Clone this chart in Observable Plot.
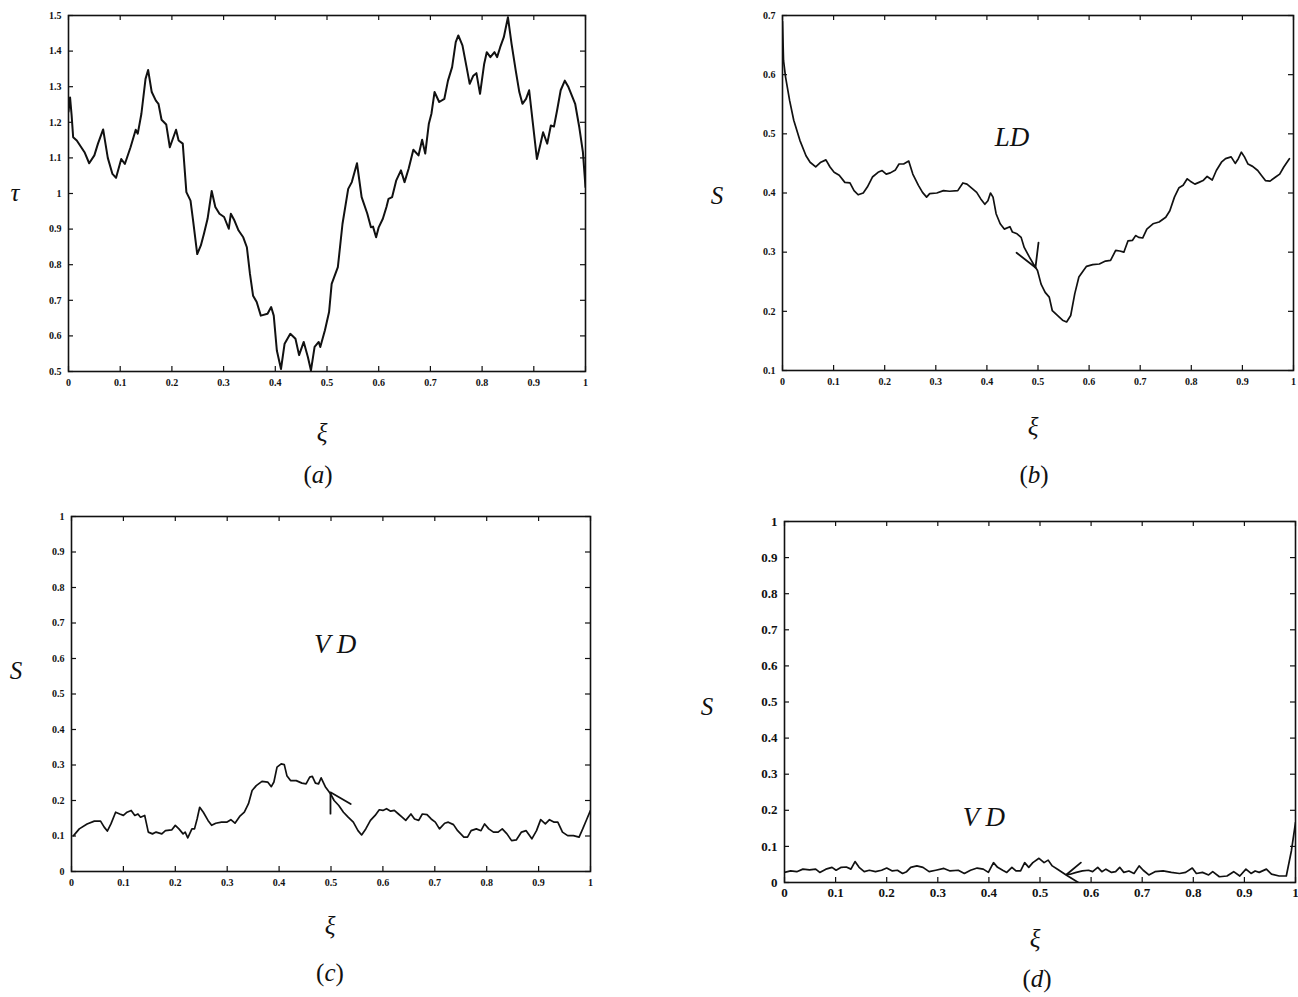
<!DOCTYPE html>
<html><head><meta charset="utf-8">
<script src="https://cdn.jsdelivr.net/npm/d3@7"></script>
<script src="https://cdn.jsdelivr.net/npm/@observablehq/plot@0.6"></script>
<style>
body{margin:0;background:#fff}
#root{position:relative;width:1298px;height:997px;overflow:hidden;background:#fff}
.lbl{position:absolute;font-family:"Liberation Serif",serif;font-size:25px;transform:translate(-50%,-50%);white-space:nowrap;color:#111;line-height:1}
.lbl i{font-style:italic}
</style>
</head><body><div id="root"></div>
<script>
// ---- tick values ----
const xTicks = [0,0.1,0.2,0.3,0.4,0.5,0.6,0.7,0.8,0.9,1];
const yTicksA = [0.5,0.6,0.7,0.8,0.9,1,1.1,1.2,1.3,1.4,1.5];
const yTicksB = [0.1,0.2,0.3,0.4,0.5,0.6,0.7];
const yTicksCD = [0,0.1,0.2,0.3,0.4,0.5,0.6,0.7,0.8,0.9,1];

// ---- panel (a): tau vs xi ----
const tauA = [[0,1.23],[0.003,1.27],[0.006,1.22],[0.009,1.158],[0.016,1.149],[0.031,1.116],[0.04,1.085],[0.05,1.107],[0.057,1.14],[0.067,1.18],[0.076,1.10],[0.085,1.055],[0.092,1.044],[0.102,1.097],[0.109,1.083],[0.12,1.13],[0.13,1.179],[0.134,1.168],[0.141,1.224],[0.149,1.322],[0.154,1.347],[0.161,1.285],[0.169,1.261],[0.174,1.252],[0.18,1.207],[0.189,1.194],[0.196,1.13],[0.208,1.179],[0.213,1.149],[0.221,1.14],[0.228,1.004],[0.236,0.98],[0.241,0.924],[0.249,0.83],[0.256,0.854],[0.262,0.887],[0.269,0.929],[0.277,1.007],[0.284,0.962],[0.292,0.943],[0.301,0.934],[0.31,0.901],[0.314,0.943],[0.321,0.924],[0.329,0.896],[0.338,0.877],[0.345,0.849],[0.351,0.774],[0.357,0.713],[0.364,0.695],[0.372,0.657],[0.385,0.662],[0.392,0.681],[0.397,0.657],[0.403,0.559],[0.411,0.507],[0.418,0.578],[0.429,0.606],[0.439,0.592],[0.446,0.546],[0.455,0.583],[0.463,0.541],[0.469,0.503],[0.476,0.569],[0.484,0.583],[0.487,0.569],[0.496,0.616],[0.504,0.667],[0.509,0.746],[0.521,0.793],[0.53,0.915],[0.541,1.013],[0.548,1.032],[0.558,1.085],[0.567,0.99],[0.578,0.943],[0.585,0.905],[0.589,0.907],[0.595,0.877],[0.6,0.905],[0.608,0.929],[0.615,0.962],[0.619,0.985],[0.626,0.99],[0.634,1.037],[0.643,1.065],[0.65,1.032],[0.658,1.07],[0.667,1.123],[0.677,1.107],[0.684,1.151],[0.69,1.112],[0.697,1.196],[0.702,1.224],[0.708,1.285],[0.717,1.257],[0.727,1.266],[0.734,1.317],[0.742,1.355],[0.749,1.425],[0.754,1.444],[0.762,1.416],[0.77,1.355],[0.776,1.308],[0.783,1.331],[0.789,1.338],[0.796,1.28],[0.804,1.364],[0.809,1.397],[0.816,1.383],[0.824,1.397],[0.829,1.383],[0.835,1.411],[0.842,1.439],[0.85,1.495],[0.857,1.42],[0.865,1.346],[0.872,1.285],[0.878,1.252],[0.885,1.266],[0.891,1.29],[0.898,1.2],[0.906,1.097],[0.913,1.14],[0.918,1.172],[0.926,1.14],[0.933,1.191],[0.939,1.188],[0.945,1.233],[0.952,1.29],[0.96,1.317],[0.967,1.299],[0.975,1.27],[0.98,1.252],[0.988,1.186],[0.995,1.116],[1.0,1.018]];

// ---- panel (b): S (LD) ----
const sB = [[0,0.69],[0.002,0.624],[0.006,0.596],[0.014,0.556],[0.022,0.523],[0.034,0.489],[0.046,0.463],[0.054,0.452],[0.065,0.444],[0.075,0.452],[0.085,0.456],[0.093,0.444],[0.101,0.435],[0.111,0.43],[0.122,0.418],[0.132,0.417],[0.14,0.404],[0.148,0.397],[0.158,0.4],[0.166,0.41],[0.176,0.427],[0.187,0.435],[0.195,0.438],[0.203,0.432],[0.211,0.434],[0.221,0.439],[0.228,0.449],[0.237,0.449],[0.247,0.454],[0.255,0.432],[0.266,0.413],[0.274,0.401],[0.282,0.393],[0.288,0.399],[0.302,0.4],[0.315,0.404],[0.327,0.403],[0.343,0.404],[0.353,0.417],[0.361,0.415],[0.372,0.407],[0.38,0.401],[0.388,0.39],[0.396,0.381],[0.402,0.387],[0.407,0.4],[0.412,0.393],[0.418,0.365],[0.426,0.348],[0.434,0.339],[0.445,0.343],[0.45,0.334],[0.459,0.331],[0.467,0.325],[0.473,0.308],[0.483,0.292],[0.491,0.28],[0.499,0.269],[0.506,0.246],[0.514,0.232],[0.522,0.224],[0.528,0.201],[0.538,0.193],[0.548,0.185],[0.556,0.182],[0.564,0.193],[0.572,0.23],[0.58,0.258],[0.589,0.269],[0.595,0.276],[0.607,0.279],[0.62,0.28],[0.632,0.285],[0.642,0.286],[0.652,0.303],[0.66,0.302],[0.668,0.3],[0.676,0.319],[0.685,0.32],[0.691,0.328],[0.697,0.325],[0.705,0.324],[0.713,0.339],[0.725,0.348],[0.737,0.351],[0.75,0.359],[0.758,0.37],[0.767,0.393],[0.776,0.409],[0.784,0.413],[0.792,0.424],[0.798,0.42],[0.807,0.415],[0.815,0.418],[0.823,0.421],[0.831,0.428],[0.841,0.422],[0.849,0.438],[0.859,0.452],[0.867,0.458],[0.878,0.461],[0.886,0.45],[0.892,0.458],[0.898,0.469],[0.904,0.461],[0.911,0.449],[0.92,0.445],[0.93,0.438],[0.937,0.43],[0.945,0.421],[0.954,0.42],[0.965,0.427],[0.973,0.432],[0.981,0.444],[0.992,0.458]];
const arrowB = [[0.458,0.299,"a"],[0.495,0.274,"a"],[0.501,0.316,"b"],[0.495,0.274,"b"]];

// ---- panel (c): S (VD) ----
const sC = [[0.004,0.101],[0.015,0.12],[0.03,0.134],[0.044,0.142],[0.056,0.142],[0.063,0.125],[0.069,0.114],[0.076,0.134],[0.085,0.167],[0.093,0.162],[0.1,0.158],[0.107,0.167],[0.115,0.172],[0.122,0.158],[0.128,0.162],[0.133,0.153],[0.141,0.158],[0.148,0.111],[0.156,0.106],[0.163,0.111],[0.174,0.106],[0.181,0.115],[0.193,0.117],[0.2,0.13],[0.207,0.12],[0.215,0.106],[0.219,0.111],[0.224,0.095],[0.232,0.12],[0.237,0.12],[0.242,0.148],[0.247,0.181],[0.254,0.167],[0.263,0.144],[0.27,0.13],[0.278,0.136],[0.289,0.139],[0.299,0.139],[0.307,0.146],[0.315,0.136],[0.324,0.155],[0.333,0.167],[0.341,0.191],[0.348,0.228],[0.356,0.242],[0.367,0.254],[0.378,0.252],[0.385,0.239],[0.39,0.252],[0.396,0.294],[0.404,0.303],[0.41,0.301],[0.415,0.27],[0.422,0.256],[0.433,0.256],[0.444,0.249],[0.452,0.247],[0.459,0.266],[0.464,0.268],[0.47,0.249],[0.476,0.247],[0.481,0.264],[0.489,0.239],[0.499,0.219],[0.506,0.2],[0.515,0.186],[0.524,0.167],[0.533,0.153],[0.543,0.139],[0.552,0.115],[0.559,0.103],[0.567,0.12],[0.576,0.144],[0.585,0.158],[0.593,0.174],[0.6,0.172],[0.607,0.177],[0.615,0.17],[0.622,0.172],[0.63,0.162],[0.637,0.153],[0.644,0.144],[0.654,0.162],[0.661,0.148],[0.669,0.144],[0.676,0.162],[0.685,0.16],[0.693,0.148],[0.701,0.139],[0.709,0.12],[0.719,0.136],[0.726,0.139],[0.736,0.132],[0.744,0.115],[0.756,0.097],[0.763,0.097],[0.77,0.115],[0.78,0.12],[0.789,0.115],[0.796,0.134],[0.804,0.12],[0.813,0.111],[0.822,0.111],[0.83,0.12],[0.839,0.106],[0.848,0.087],[0.857,0.089],[0.867,0.111],[0.876,0.115],[0.887,0.092],[0.896,0.115],[0.904,0.146],[0.913,0.134],[0.921,0.146],[0.93,0.139],[0.937,0.139],[0.946,0.111],[0.956,0.101],[0.967,0.101],[0.978,0.097],[0.985,0.12],[0.993,0.148],[1.0,0.172]];
const arrowC = [[0.499,0.163,"a"],[0.499,0.223,"a"],[0.538,0.19,"a"]];

// ---- panel (d): S (VD) ----
const sD1 = [[0,0.028],[0.012,0.032],[0.024,0.03],[0.036,0.037],[0.049,0.035],[0.061,0.037],[0.069,0.028],[0.081,0.037],[0.093,0.042],[0.101,0.034],[0.111,0.042],[0.121,0.043],[0.13,0.037],[0.138,0.058],[0.146,0.042],[0.156,0.03],[0.166,0.034],[0.178,0.03],[0.19,0.034],[0.2,0.04],[0.211,0.032],[0.221,0.034],[0.231,0.025],[0.239,0.03],[0.247,0.042],[0.259,0.046],[0.271,0.042],[0.283,0.03],[0.296,0.034],[0.312,0.039],[0.324,0.032],[0.34,0.034],[0.352,0.025],[0.364,0.034],[0.377,0.04],[0.389,0.037],[0.399,0.028],[0.409,0.055],[0.417,0.042],[0.427,0.034],[0.435,0.028],[0.445,0.042],[0.453,0.032],[0.462,0.032],[0.47,0.055],[0.478,0.042],[0.486,0.055],[0.498,0.067],[0.508,0.055],[0.516,0.062],[0.524,0.046],[0.535,0.036],[0.552,0.02],[0.575,0]];
const sD2 = [[0.552,0.022],[0.559,0.023],[0.571,0.028],[0.583,0.032],[0.595,0.034],[0.603,0.03],[0.613,0.042],[0.621,0.03],[0.629,0.037],[0.64,0.028],[0.648,0.03],[0.656,0.042],[0.664,0.028],[0.674,0.032],[0.684,0.025],[0.694,0.046],[0.702,0.034],[0.713,0.021],[0.725,0.03],[0.741,0.032],[0.757,0.028],[0.773,0.025],[0.785,0.028],[0.798,0.04],[0.806,0.025],[0.818,0.028],[0.83,0.021],[0.838,0.03],[0.851,0.016],[0.866,0.018],[0.879,0.03],[0.891,0.018],[0.903,0.037],[0.913,0.025],[0.921,0.032],[0.929,0.028],[0.943,0.037],[0.953,0.023],[0.968,0.018],[0.982,0.018],[0.992,0.088],[1.0,0.166]];
const arrowD = [[0.552,0.022,"a"],[0.58,0.055,"a"]];

const fmt = d => String(+d.toFixed(1));
const root = document.getElementById("root");

function panel({left, top, right, bottom, ydomain, yTicks, marks, fontSize, labelPad}) {
  const mL = 50, mR = 14, mT = 14, mB = 34;
  const W = right - left, H = bottom - top;
  const tk = 5;
  const svg = Plot.plot({
    width: W + mL + mR, height: H + mT + mB,
    marginLeft: mL, marginRight: mR, marginTop: mT, marginBottom: mB,
    style: {fontFamily: '"Liberation Serif", serif', fontSize: fontSize + "px", fontWeight: "bold", color: "#111", background: "transparent", overflow: "visible"},
    x: {domain: [0, 1], ticks: xTicks, tickFormat: fmt, tickSize: 0, tickPadding: labelPad, label: null},
    y: {domain: ydomain, ticks: yTicks, tickFormat: fmt, tickSize: 0, tickPadding: 7, label: null},
    marks: [
      Plot.tickX(xTicks, {x: d => d, insetTop: H - tk, stroke: "#111", strokeWidth: 1.2}),
      Plot.tickX(xTicks, {x: d => d, insetBottom: H - tk, stroke: "#111", strokeWidth: 1.2}),
      Plot.tickY(yTicks, {y: d => d, insetRight: W - tk, stroke: "#111", strokeWidth: 1.2}),
      Plot.tickY(yTicks, {y: d => d, insetLeft: W - tk, stroke: "#111", strokeWidth: 1.2}),
      ...marks,
      Plot.frame({stroke: "#111", strokeWidth: 1.6})
    ]
  });
  svg.style.position = "absolute";
  svg.style.left = (left - mL) + "px";
  svg.style.top = (top - mT) + "px";
  root.appendChild(svg);
}

const lineOpts = (w) => ({x: d => d[0], y: d => d[1], stroke: "#111", strokeWidth: w, clip: true, strokeLinejoin: "round", strokeLinecap: "round"});
const arrowOpts = {x: d => d[0], y: d => d[1], z: d => d[2], stroke: "#111", strokeWidth: 1.8, strokeLinecap: "round"};
const txt = (x, y, t) => Plot.text([t], {x: () => x, y: () => y, text: d => d, fontFamily: '"Liberation Serif", serif', fontStyle: "italic", fontWeight: "normal", fontSize: 27, fill: "#111"});

panel({left: 68, top: 15, right: 585, bottom: 371, ydomain: [0.5, 1.5], yTicks: yTicksA, fontSize: 10, labelPad: 7,
  marks: [Plot.line(tauA, lineOpts(2))]});
panel({left: 782, top: 15, right: 1293, bottom: 370, ydomain: [0.1, 0.7], yTicks: yTicksB, fontSize: 10, labelPad: 7,
  marks: [Plot.line(sB, lineOpts(1.7)), Plot.line(arrowB, arrowOpts), txt(0.449, 0.494, "LD")]});
panel({left: 71, top: 516, right: 590, bottom: 871, ydomain: [0, 1], yTicks: yTicksCD, fontSize: 10, labelPad: 7,
  marks: [Plot.line(sC, lineOpts(1.7)), Plot.line(arrowC, arrowOpts), txt(0.508, 0.64, "V D")]});
panel({left: 784, top: 521, right: 1295, bottom: 882, ydomain: [0, 1], yTicks: yTicksCD, fontSize: 13, labelPad: 5,
  marks: [Plot.line(sD1, lineOpts(1.7)), Plot.line(sD2, lineOpts(1.7)), Plot.line(arrowD, arrowOpts), txt(0.39, 0.18, "V D")]});

// ---- axis titles and panel captions ----
const labels = [
  {x: 15, y: 192, html: "<i>τ</i>"},
  {x: 322, y: 432, html: "<i>ξ</i>"},
  {x: 318, y: 474, html: "(<i>a</i>)"},
  {x: 717, y: 195, html: "<i>S</i>"},
  {x: 1033, y: 426, html: "<i>ξ</i>"},
  {x: 1034, y: 474, html: "(<i>b</i>)"},
  {x: 16, y: 670, html: "<i>S</i>"},
  {x: 330, y: 925, html: "<i>ξ</i>"},
  {x: 330, y: 972, html: "(<i>c</i>)"},
  {x: 707, y: 706, html: "<i>S</i>"},
  {x: 1035, y: 938, html: "<i>ξ</i>"},
  {x: 1037, y: 978, html: "(<i>d</i>)"}
];
for (const l of labels) {
  const d = document.createElement("div");
  d.className = "lbl";
  d.style.left = l.x + "px";
  d.style.top = l.y + "px";
  d.innerHTML = l.html;
  root.appendChild(d);
}
</script></body></html>
